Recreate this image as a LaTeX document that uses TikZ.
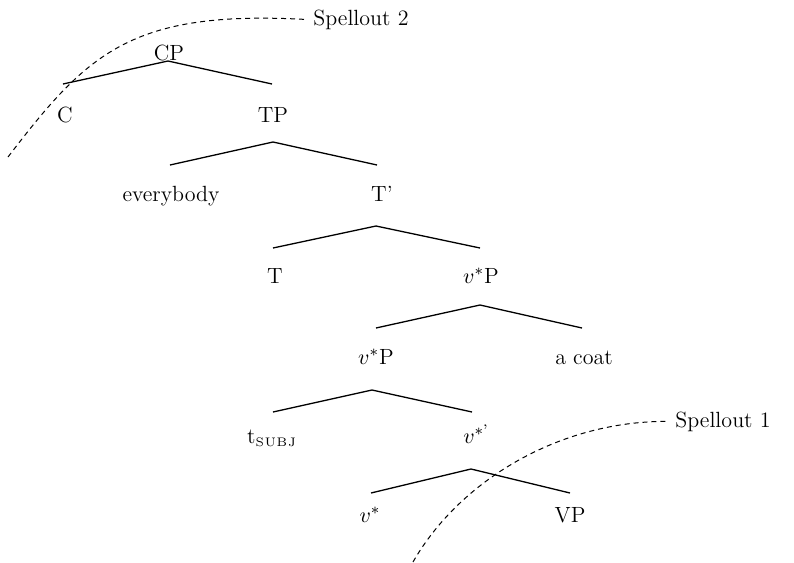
\documentclass[tikz,border=0pt]{standalone}
\usepackage{amsmath}
\usetikzlibrary{calc}
\begin{document}
\begin{tikzpicture}[x=0.5pt,y=-0.5pt,
    lbl/.style={inner sep=0pt,anchor=base,font=\fontsize{11}{13}\selectfont},
    spell/.style={lbl,anchor=base west,inner xsep=4pt},
    branch/.style={line width=0.65pt},
    spellline/.style={line width=0.5pt,dash pattern=on 2.5pt off 2pt}]
    \useasboundingbox (0,0) rectangle (794,563);

    % Labels of the tree, row by row
    \node[lbl] (CP) at (169,60) {CP};

    \node[lbl] (C) at (65,122) {C};
    \node[lbl] (TP) at (273,122) {TP};

    \node[lbl] (everybody) at (171,201) {everybody};
    \node[lbl] (Tbar) at (382,201) {T'};

    \node[lbl] (T) at (275,283) {T};
    \node[lbl] (vP) at (481,283) {$v^*$P};

    \node[lbl] (vPlow) at (376,364) {$v^*$P};
    \node[lbl] (coat) at (584,364) {a coat};

    \node[lbl] (tsubj) at (272,443) {t\textsubscript{\fontsize{6.2}{7}\selectfont S\kern0.4pt U\kern0.4pt B\kern0.4pt J}};
    \node[lbl] (vbar) at (476,443) {$v^{*\textrm{'}}$};

    \node[lbl] (vstar) at (370,522) {$v^*$};
    \node[lbl] (VP) at (570,522) {VP};

    % Spellout labels
    \node[spell] (sp2) at (305,25) {Spellout 2};
    \node[spell] (sp1) at (667,427) {Spellout 1};
    \coordinate (cut2) at (8,157);
    \coordinate (cut1) at (413,562);

    % Branches
    \draw[branch] ($(C.base)+(-2,-38)$) -- ($(CP.base)+(-1,1)$) -- ($(TP.base)+(-1,-38)$);
    \draw[branch] ($(everybody.base)+(-1,-36)$) -- ($(TP.base)+(0,20)$) -- ($(Tbar.base)+(-5,-36)$);
    \draw[branch] ($(T.base)+(-2,-35)$) -- ($(Tbar.base)+(-6,25)$) -- ($(vP.base)+(-1,-35)$);
    \draw[branch] ($(vPlow.base)+(0,-36)$) -- ($(vP.base)+(-1,22)$) -- ($(coat.base)+(-2,-36)$);
    \draw[branch] ($(tsubj.base)+(1,-31)$) -- ($(vPlow.base)+(-4,26)$) -- ($(vbar.base)+(-4,-31)$);
    \draw[branch] ($(vstar.base)+(1,-29)$) -- ($(vbar.base)+(-5,26)$) -- ($(VP.base)+(0,-29)$);

    % Spellout boundaries
    \draw[spellline] (cut2) .. controls (87,54) and (130,10) .. (sp2.west);
    \draw[spellline] (cut1) .. controls (460,480) and (560,421) .. (sp1.west);
\end{tikzpicture}
\end{document}
